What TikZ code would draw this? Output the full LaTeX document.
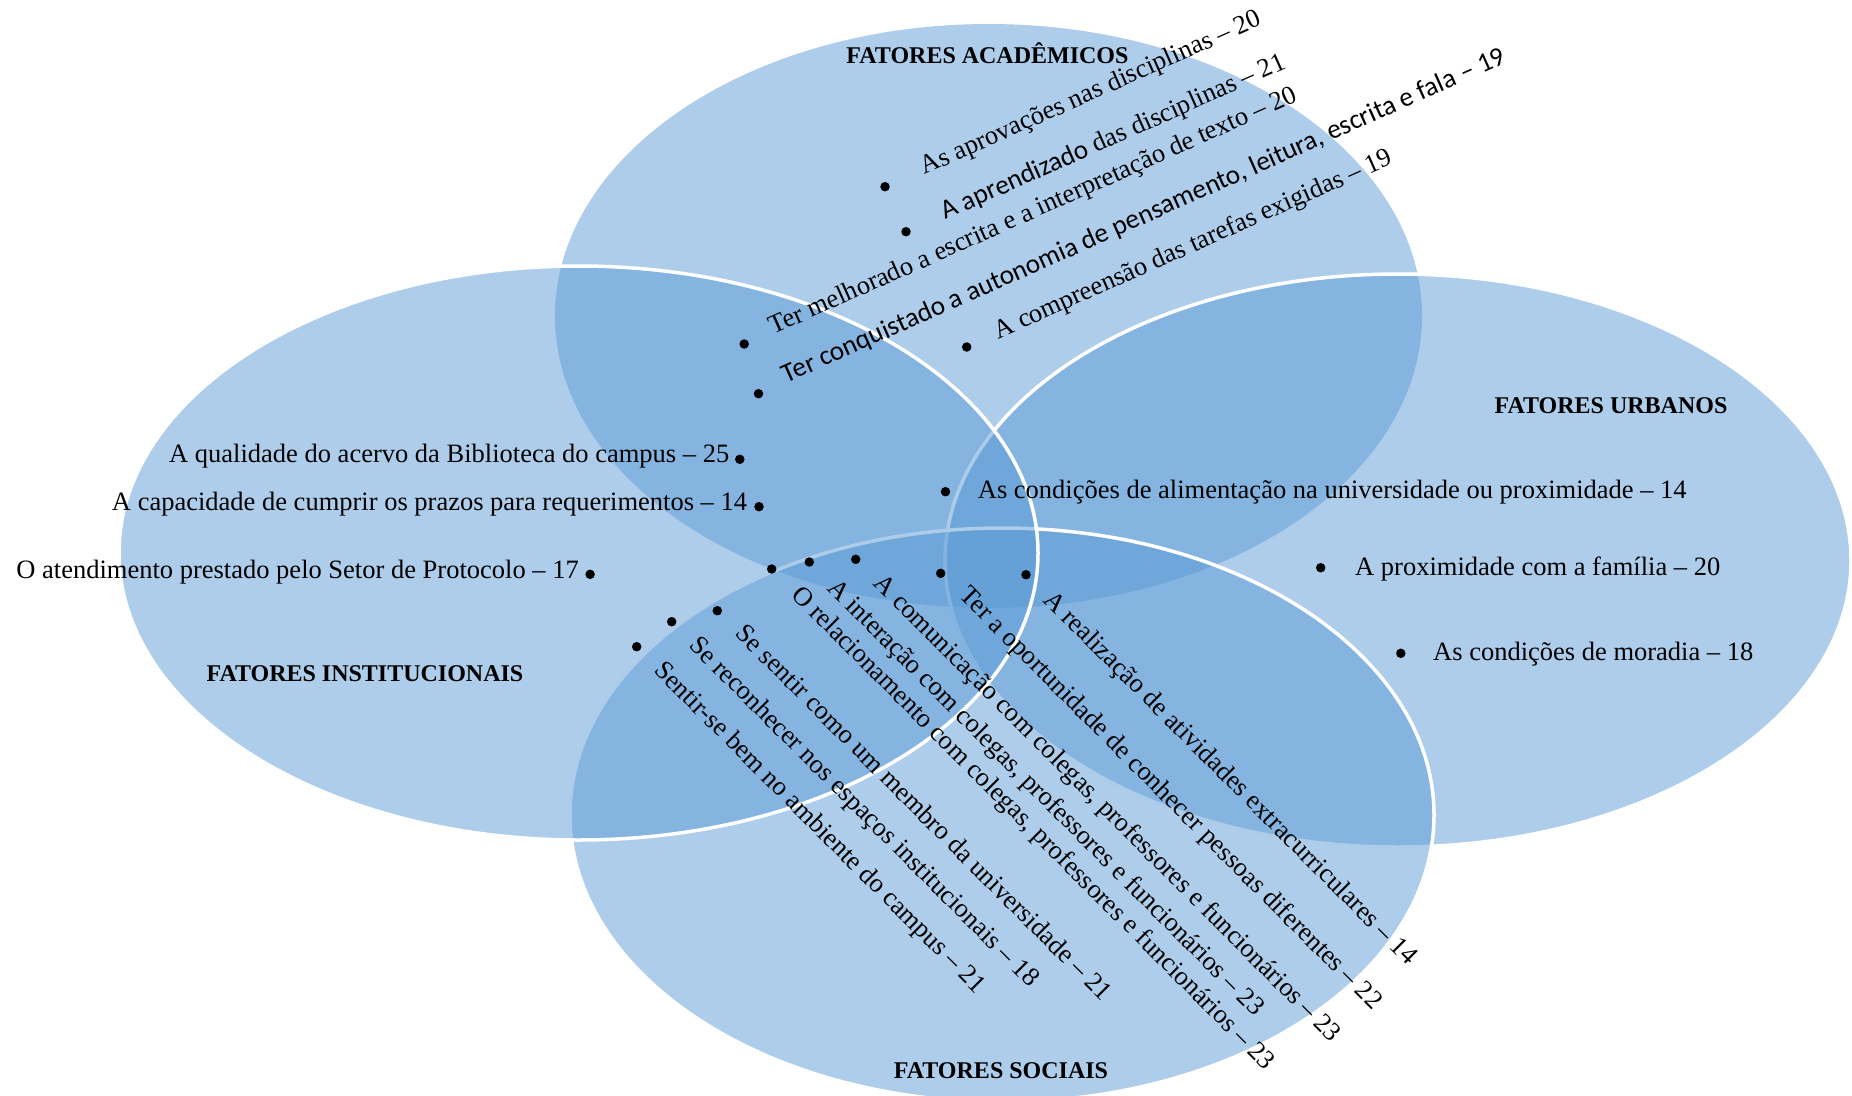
\documentclass[tikz,border=0pt]{standalone}
\usepackage{fontspec}
\setmainfont{Liberation Serif}
\newfontfamily\sansf{Carlito}
\usetikzlibrary{calc}
\definecolor{vblue}{HTML}{5B9BD5}
\begin{document}
\begin{tikzpicture}[x=1pt,y=-1pt,
  venn/.style={fill=vblue, fill opacity=0.5},
  vennline/.style={venn, draw=white, draw opacity=1, line width=3.5pt},
  bul/.style={circle, fill=black, inner sep=0pt, minimum size=9.5pt},
  item/.style={inner sep=0pt, font=\fontsize{26.5}{30}\selectfont, text=black},
  title/.style={inner sep=0pt, font=\fontsize{24}{28}\selectfont\bfseries, anchor=base},
  acad/.style={item, rotate=24, anchor=base west},
  soc/.style={item, rotate=-45, anchor=base west},
]
\useasboundingbox (0,0) rectangle (1852,1095);
\clip (0,0) rectangle (1852,1095);
% circles of the diagram
\fill[venn] (988.5,316) ellipse [x radius=433.5pt, y radius=292pt];
\filldraw[vennline] (1398,560.5) ellipse [x radius=453pt, y radius=286.5pt];
\filldraw[vennline] (1002,815) ellipse [x radius=432pt, y radius=287pt];
\filldraw[vennline] (578.5,553) ellipse [x radius=459.5pt, y radius=287pt];

% titles
\node[title] (tA) at (987.5,63) {FATORES ACADÊMICOS};
\node[title] (tU) at (1611,413.3) {FATORES URBANOS};
\node[title] (tI) at (365,681.7) {FATORES INSTITUCIONAIS};
\node[title] (tS) at (1001,1078.8) {FATORES SOCIAIS};

% academic
\node[bul] (a1) at (885,186.7) {};
\node[acad] (ta1) at ($(a1)+(-24:41)+(66:5.5)$) {As aprovações nas disciplinas – 20};
\node[bul] (a2) at (906,231.7) {};
\node[acad] (ta2) at ($(a2)+(-24:41)+(66:5.5)$) {{\sansf\fontsize{27.2}{30}\selectfont A aprendizado} das disciplinas – 21};
\node[bul] (a3) at (744.2,344) {};
\node[acad] (ta3) at ($(a3)+(-24:30.5)+(66:3.5)$) {Ter melhorado a escrita e a interpretação de texto – 20};
\node[bul] (a4) at (758.5,393.7) {};
\node[acad] (ta4) at ($(a4)+(-24:30)+(66:2)$) {\sansf\fontsize{27.2}{30}\selectfont Ter conquistado a autonomia de pensamento, leitura, escrita e fala – 19};
\node[bul] (a5) at (966.7,347) {};
\node[acad] (ta5) at ($(a5)+(-24:32)+(66:6)$) {A compreensão das tarefas exigidas – 19};

% institutional
\node[item, anchor=base east] (ti1) at (729.4,462.7) {A qualidade do acervo da Biblioteca do campus – 25};
\node[bul] (i1) at (739.8,459.3) {};
\node[item, anchor=base east] (ti2) at (747.2,510) {A capacidade de cumprir os prazos para requerimentos – 14};
\node[bul] (i2) at (759,506.7) {};
\node[item, anchor=base east] (ti3) at (578.9,578.3) {O atendimento prestado pelo Setor de Protocolo – 17};
\node[bul] (i3) at (590.1,574.3) {};

% urban
\node[bul] (u1) at (945.5,491.7) {};
\node[item, anchor=base west] (tu1) at (977.7,498.8) {As condições de alimentação na universidade ou proximidade – 14};
\node[bul] (u2) at (1320.7,567.7) {};
\node[item, anchor=base west] (tu2) at (1355,575) {A proximidade com a família – 20};
\node[bul] (u3) at (1400.8,653.3) {};
\node[item, anchor=base west] (tu3) at (1433,660.7) {As condições de moradia – 18};

% social
\node[bul] (s1) at (636.7,646.7) {};
\node[soc] (ts1) at ($(s1)+(45:29)+(135:6)$) {Sentir-se bem no ambiente do campus – 21};
\node[bul] (s2) at (671.7,621.7) {};
\node[soc] (ts2) at ($(s2)+(45:29)+(135:6)$) {Se reconhecer nos espaços institucionais – 18};
\node[bul] (s3) at (717.3,610.7) {};
\node[soc] (ts3) at ($(s3)+(45:29)+(135:5)$) {Se sentir como um membro da universidade – 21};
\node[bul] (s4) at (771.7,569) {};
\node[soc] (ts4) at ($(s4)+(45:32)+(135:6)$) {O relacionamento com colegas, professores e funcionários – 23};
\node[bul] (s5) at (809.3,562) {};
\node[soc] (ts5) at ($(s5)+(45:31)+(135:7)$) {A interação com colegas, professores e funcionários – 23};
\node[bul] (s6) at (855.7,559.3) {};
\node[soc] (ts6) at ($(s6)+(45:30)+(135:6)$) {A comunicação com colegas, professores e funcionários – 23};
\node[bul] (s7) at (940.7,573.3) {};
\node[soc] (ts7) at ($(s7)+(45:29)+(135:4)$) {Ter a oportunidade de conhecer pessoas diferentes – 22};
\node[bul] (s8) at (1026,574.7) {};
\node[soc] (ts8) at ($(s8)+(45:30)+(135:7)$) {A realização de atividades extracurriculares – 14};
\end{tikzpicture}
\end{document}
